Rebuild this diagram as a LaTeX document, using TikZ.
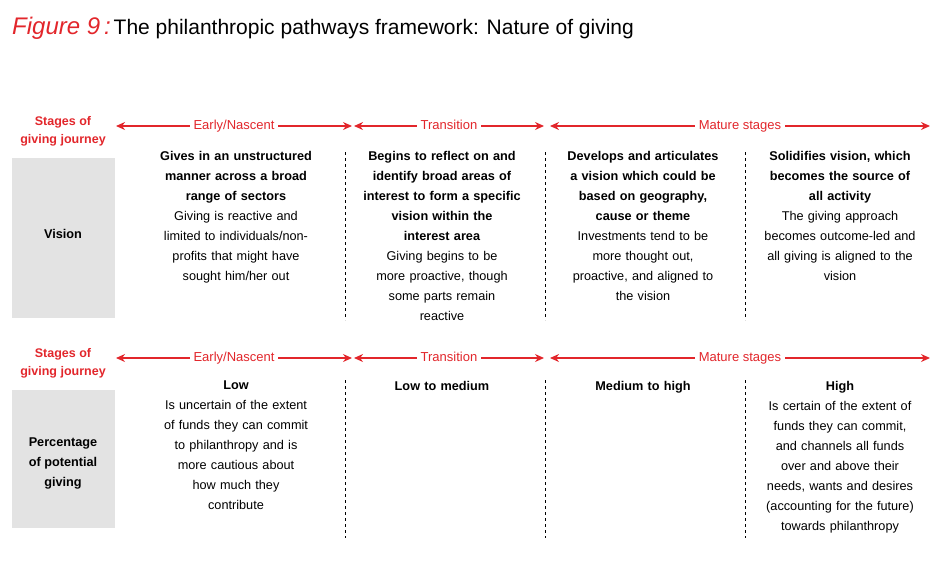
\documentclass[tikz,border=0pt]{standalone}
\usepackage{fontspec}
\setmainfont{Liberation Sans}
\usetikzlibrary{arrows.meta}
\definecolor{bred}{HTML}{E2262B}
\definecolor{boxgray}{HTML}{E3E3E3}
\begin{document}
\begin{tikzpicture}[x=1pt,y=-1pt,
  lab/.style={text=bred,font=\fontsize{13}{15}\selectfont,fill=white,inner sep=4pt,text height=9.5pt,text depth=2.5pt},
  stagelab/.style={text=bred,font=\fontsize{12.5}{18}\selectfont\bfseries,align=center},
  rarrow/.style={draw=bred,line width=1.4pt,{Stealth[length=9pt,width=8pt]}-{Stealth[length=9pt,width=8pt]}},
  gbox/.style={fill=boxgray,draw=none},
  col/.style={anchor=north,align=center,text width=198pt,font=\fontsize{12.7}{20}\selectfont,inner sep=0pt},
  divider/.style={draw=black,dashed,line width=0.6pt}]
\useasboundingbox (0,0) rectangle (950,560);
\node[anchor=west,inner sep=0] (title) at (12,28) {{\color{bred}\fontsize{24}{28}\selectfont\itshape Figure 9\,:}\ \fontsize{21}{24}\selectfont The philanthropic pathways framework: Nature of giving};
% row 1
\node[stagelab] (s1) at (63,131) {Stages of\\giving journey};
\coordinate (a1) at (116,126); \coordinate (a2) at (352,126);
\coordinate (b1) at (354,126); \coordinate (b2) at (544,126);
\coordinate (c1) at (550,126); \coordinate (c2) at (930,126);
\draw[rarrow] (a1) -- (a2) node[midway,lab] (l1) {Early/Nascent};
\draw[rarrow] (b1) -- (b2) node[midway,lab] (l2) {Transition};
\draw[rarrow] (c1) -- (c2) node[midway,lab] (l3) {Mature stages};
\fill[gbox] (12,158) rectangle (115,318);
\node[font=\fontsize{12.7}{14}\selectfont\bfseries] (v) at (63,234) {Vision};
\node[col] (v1) at (236,151) {\textbf{Gives in an unstructured\\manner across a broad\\range of sectors}\\Giving is reactive and\\limited to individuals/non-\\profits that might have\\sought him/her out};
\node[col] (v2) at (442,151) {\textbf{Begins to reflect on and\\identify broad areas of\\interest to form a specific\\vision within the\\interest area}\\Giving begins to be\\more proactive, though\\some parts remain\\reactive};
\node[col] (v3) at (643,151) {\textbf{Develops and articulates\\a vision which could be\\based on geography,\\cause or theme}\\Investments tend to be\\more thought out,\\proactive, and aligned to\\the vision};
\node[col] (v4) at (840,151) {\textbf{Solidifies vision, which\\becomes the source of\\all activity}\\The giving approach\\becomes outcome-led and\\all giving is aligned to the\\vision};
\draw[divider] (345,152) -- (345,320);
\draw[divider] (545,152) -- (545,320);
\draw[divider] (745,152) -- (745,320);
% row 2
\node[stagelab] (s2) at (63,363) {Stages of\\giving journey};
\coordinate (d1) at (116,358); \coordinate (d2) at (352,358);
\coordinate (e1) at (354,358); \coordinate (e2) at (544,358);
\coordinate (f1) at (550,358); \coordinate (f2) at (930,358);
\draw[rarrow] (d1) -- (d2) node[midway,lab] (m1) {Early/Nascent};
\draw[rarrow] (e1) -- (e2) node[midway,lab] (m2) {Transition};
\draw[rarrow] (f1) -- (f2) node[midway,lab] (m3) {Mature stages};
\fill[gbox] (12,390) rectangle (115,528);
\node[font=\fontsize{12.7}{20}\selectfont\bfseries,align=center] (p) at (63,463) {Percentage\\of potential\\giving};
\node[col] (p1) at (236,381) {\textbf{Low}\\Is uncertain of the extent\\of funds they can commit\\to philanthropy and is\\more cautious about\\how much they\\contribute};
\node[col] (p2) at (442,381) {\textbf{Low to medium}};
\node[col] (p3) at (643,381) {\textbf{Medium to high}};
\node[col] (p4) at (840,381) {\textbf{High}\\Is certain of the extent of\\funds they can commit,\\and channels all funds\\over and above their\\needs, wants and desires\\(accounting for the future)\\towards philanthropy};
\draw[divider] (345,380) -- (345,538);
\draw[divider] (545,380) -- (545,538);
\draw[divider] (745,380) -- (745,538);
\end{tikzpicture}
\end{document}
